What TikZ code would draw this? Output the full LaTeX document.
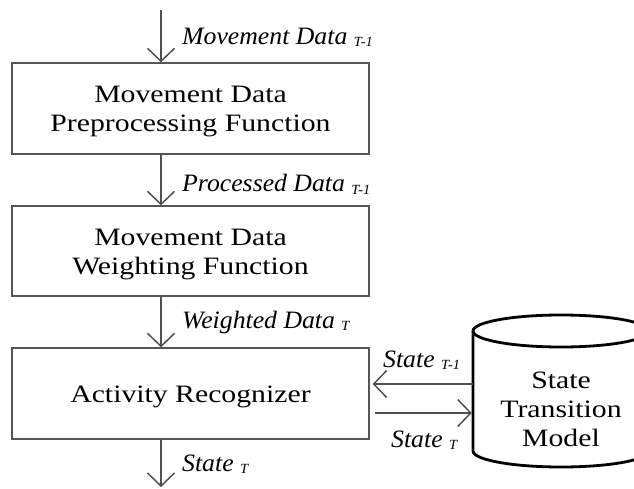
\documentclass[tikz,border=0pt]{standalone}
\usepackage{fontspec}
\setmainfont[FakeStretch=1.19]{Liberation Serif}
\newfontfamily\lblfont[FakeStretch=1.03]{Liberation Serif}
\usetikzlibrary{arrows.meta,calc}
\definecolor{linegray}{HTML}{505050}
\definecolor{boxgray}{HTML}{555555}
\newcommand\lblsub[1]{{\fontsize{14}{14}\selectfont\raisebox{-2pt}{#1}}}
\begin{document}
\begin{tikzpicture}[x=1pt,y=-1pt,
  box/.style={draw=boxgray, line width=1.3pt, minimum width=357pt,
    minimum height=91pt, inner sep=0pt},
  boxtext/.style={align=center, inner sep=0pt,
    font=\fontsize{25}{29}\selectfont},
  lbl/.style={anchor=base west, inner sep=0pt,
    font=\lblfont\itshape\fontsize{25}{30}\selectfont},
  arr/.style={draw=linegray, line width=1.5pt,
    -{Straight Barb[length=13pt,width=27pt]}},
  dbline/.style={draw=black, line width=2.8pt}]
\useasboundingbox (0,0) rectangle (634,489);

% processing chain
\node[box] (b1) at (190.5,108.5) {};
\node[box, minimum height=90pt] (b2) at (190.5,251) {};
\node[box] (b3) at (190.5,393.5) {};
\node[boxtext] (t1) at ($(b1.center)+(0,3.5)$) {Movement Data\\Preprocessing Function};
\node[boxtext] (t2) at ($(b2.center)+(0,3.5)$) {Movement Data\\Weighting Function};
\node[boxtext] (t3) at ($(b3.center)+(0,3.5)$) {Activity Recognizer};

% state transition model (cylinder)
\draw[dbline] (473,331) -- (473,451)
  arc[start angle=180, end angle=360, x radius=88pt, y radius=16pt] -- (649,331);
\draw[dbline] (561,331) ellipse [x radius=88pt, y radius=16pt];
\node[boxtext, minimum width=176pt] (stm) at (561,409) {State\\Transition\\Model};

% vertical data flow
\coordinate (ax) at (161,0);
\coordinate (top) at (161,10);
\coordinate (bot) at (161,487);
\draw[arr] (top) -- (b1.north -| ax);
\draw[arr] (b1.south -| ax) -- (b2.north -| ax);
\draw[arr] (b2.south -| ax) -- (b3.north -| ax);
\draw[arr] (b3.south -| ax) -- (bot);

% state exchange
\coordinate (r1) at (0,384);
\coordinate (r2) at (0,413);
\draw[arr] (stm.west |- r1) -- ([xshift=3pt]b3.east |- r1);
\draw[arr] ([xshift=5pt]b3.east |- r2) -- ([xshift=-1pt]stm.west |- r2);

% labels
\node[lbl] (l1) at (182,45) {Movement Data \lblsub{T-1}};
\node[lbl] (l2) at (182,192) {Processed Data \lblsub{T-1}};
\node[lbl] (l3) at (182,328) {Weighted Data \lblsub{T}};
\node[lbl] (l4) at (182,471) {State \lblsub{T}};
\node[lbl] (l5) at (383,367) {State \lblsub{T-1}};
\node[lbl] (l6) at (391,447) {State \lblsub{T}};
\end{tikzpicture}
\end{document}
